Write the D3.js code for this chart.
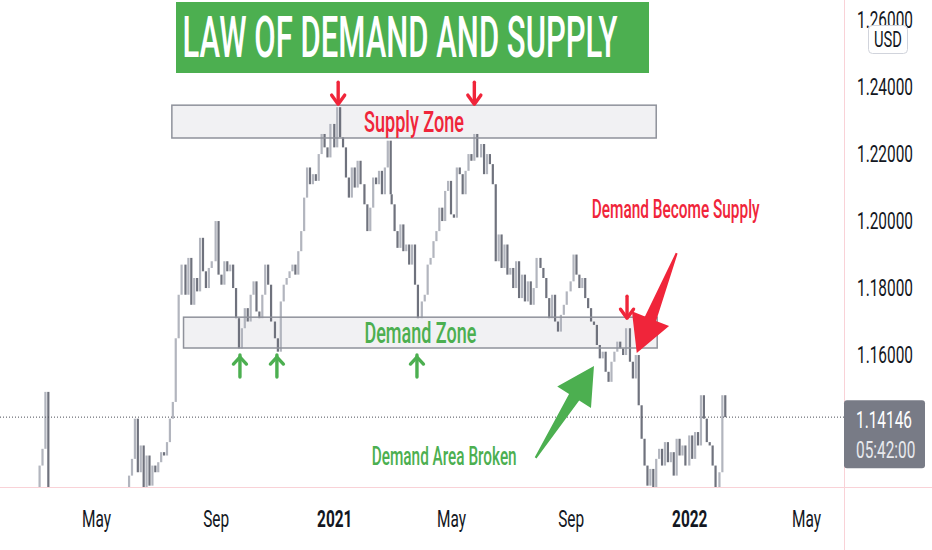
<!DOCTYPE html>
<html>
<head>
<meta charset="utf-8">
<script src="https://cdn.jsdelivr.net/npm/d3@7"></script>
<style>
  html, body { margin: 0; padding: 0; background: #fff; }
  svg { display: block; font-family: Roboto, "Noto Sans", sans-serif; }
</style>
</head>
<body>
<svg id="chart" width="932" height="550"></svg>
<script>
// EUR/USD closes, sampled on the 1st, 4th, ... 28th of each month
const months = ["2020-03", "2020-04", "2020-05", "2020-06", "2020-07", "2020-08", "2020-09", "2020-10",
  "2020-11", "2020-12", "2021-01", "2021-02", "2021-03", "2021-04", "2021-05", "2021-06", "2021-07",
  "2021-08", "2021-09", "2021-10", "2021-11", "2021-12", "2022-01", "2022-02"];
const sampleDays = [1, 4, 7, 10, 13, 16, 19, 22, 25, 28];
const closes = [
  [1.103, 1.127, 1.132, 1.149, 1.118, 1.117, 1.069, 1.072, 1.089, 1.114],
  [1.097, 1.085, 1.092, 1.092, 1.087, 1.086, 1.083, 1.078, 1.082, 1.088],
  [1.095, 1.080, 1.084, 1.081, 1.082, 1.092, 1.093, 1.090, 1.098, 1.110],
  [1.112, 1.124, 1.129, 1.141, 1.125, 1.133, 1.119, 1.130, 1.121, 1.127],
  [1.125, 1.128, 1.131, 1.130, 1.134, 1.141, 1.146, 1.165, 1.178, 1.187],
  [1.178, 1.189, 1.175, 1.183, 1.179, 1.195, 1.185, 1.180, 1.186, 1.188],
  [1.200, 1.184, 1.181, 1.188, 1.185, 1.187, 1.180, 1.171, 1.162, 1.168],
  [1.174, 1.170, 1.178, 1.182, 1.173, 1.171, 1.178, 1.187, 1.181, 1.170],
  [1.165, 1.161, 1.176, 1.181, 1.183, 1.185, 1.187, 1.184, 1.191, 1.197],
  [1.207, 1.216, 1.211, 1.214, 1.212, 1.220, 1.226, 1.222, 1.219, 1.229],
  [1.222, 1.234, 1.225, 1.222, 1.213, 1.207, 1.216, 1.210, 1.218, 1.211],
  [1.205, 1.197, 1.204, 1.213, 1.211, 1.215, 1.208, 1.216, 1.224, 1.208],
  [1.205, 1.197, 1.192, 1.199, 1.191, 1.193, 1.187, 1.193, 1.181, 1.171],
  [1.176, 1.178, 1.187, 1.189, 1.194, 1.197, 1.204, 1.200, 1.209, 1.212],
  [1.202, 1.201, 1.216, 1.214, 1.208, 1.215, 1.220, 1.218, 1.226, 1.219],
  [1.223, 1.214, 1.220, 1.217, 1.211, 1.188, 1.196, 1.186, 1.193, 1.184],
  [1.186, 1.180, 1.188, 1.177, 1.184, 1.176, 1.182, 1.175, 1.180, 1.189],
  [1.186, 1.183, 1.177, 1.171, 1.178, 1.170, 1.167, 1.172, 1.175, 1.179],
  [1.182, 1.190, 1.184, 1.180, 1.183, 1.177, 1.174, 1.170, 1.169, 1.163],
  [1.159, 1.161, 1.155, 1.152, 1.158, 1.161, 1.164, 1.162, 1.160, 1.168],
  [1.158, 1.153, 1.160, 1.145, 1.135, 1.127, 1.121, 1.126, 1.119, 1.129],
  [1.132, 1.127, 1.134, 1.128, 1.131, 1.124, 1.135, 1.130, 1.133, 1.127],
  [1.136, 1.129, 1.137, 1.133, 1.148, 1.141, 1.134, 1.133, 1.127, 1.115],
  [1.125, 1.148, 1.14146]
];
const lastPrice = 1.14146;
const lastTime = "05:42:00";
const priceTicks = [1.16, 1.18, 1.20, 1.22, 1.24, 1.26];
const currency = "USD";
const title = "LAW OF DEMAND AND SUPPLY";

// drawn zones and markers, in date / price terms
const zones = [
  { name: "Supply Zone", from: "2020-07-18", to: "2021-11-28", lo: 1.2248, hi: 1.2346, kind: "supply", width: 100 },
  { name: "Demand Zone", from: "2020-07-30", to: "2021-11-29", lo: 1.1621, hi: 1.1713, kind: "demand", width: 112 }
];
const markers = [
  { date: "2021-01-05", price: 1.2352, dir: "down" },
  { date: "2021-05-25", price: 1.2352, dir: "down" },
  { date: "2021-10-29", price: 1.1713, dir: "down" },
  { date: "2020-09-26", price: 1.1597, dir: "up" },
  { date: "2020-11-03", price: 1.1597, dir: "up" },
  { date: "2021-03-27", price: 1.1597, dir: "up" }
];
const bigArrows = [
  { from: ["2021-07-27", 1.1293], to: ["2021-09-25", 1.1567], kind: "demand" },
  { from: ["2021-12-19", 1.1904], to: ["2021-11-08", 1.1606], kind: "supply" }
];
const notes = [
  { text: "Demand Become Supply", date: "2021-12-18", price: 1.2009, kind: "supply", width: 168 },
  { text: "Demand Area Broken", date: "2021-04-24", price: 1.1272, kind: "demand", width: 145 }
];

const RED = "#f0253a", GREEN = "#4caf50";
const colorOf = k => k === "supply" ? RED : GREEN;
const W = 844, H = 487, SQ = 0.67;

const parseDay = d3.timeParse("%Y-%m-%d");
const parseMonth = d3.timeParse("%Y-%m");

const bars = [];
let prev = null;
months.forEach((m, i) => {
  const start = parseMonth(m);
  closes[i].forEach((c, j) => {
    bars.push({ date: d3.timeDay.offset(start, sampleDays[j] - 1), open: prev === null ? c : prev, close: c });
    prev = c;
  });
});

const x = d3.scaleTime().domain([parseDay("2020-05-01"), parseDay("2022-05-01")]).range([96, 806]);
const y = d3.scaleLinear().domain([1.1206, 1.266]).range([H, 0]);

const svg = d3.select("#chart");

// narrow a text horizontally: by factor k, or to a target width
function squeeze(sel, k, target) {
  sel.each(function (d) {
    const w = this.getComputedTextLength();
    const t = typeof target === "function" ? target(d) : target;
    const f = t ? t / w : k;
    const el = d3.select(this);
    const x0 = +el.attr("x") || 0;
    el.attr("x", x0 / f).attr("transform", `scale(${f},1)`);
  });
}

svg.append("defs").append("clipPath").attr("id", "plot")
  .append("rect").attr("width", W).attr("height", H);

const plot = svg.append("g").attr("clip-path", "url(#plot)");

// zone backgrounds under the bars
plot.selectAll(".zone-bg").data(zones).enter().append("rect")
  .attr("x", d => x(parseDay(d.from)))
  .attr("y", d => y(d.hi))
  .attr("width", d => x(parseDay(d.to)) - x(parseDay(d.from)))
  .attr("height", d => y(d.lo) - y(d.hi))
  .attr("fill", "#f1f1f3");

plot.selectAll(".bar").data(bars).enter().append("rect")
  .attr("x", d => x(d.date) - 1.1)
  .attr("width", 2.2)
  .attr("y", d => y(Math.max(d.open, d.close)))
  .attr("height", d => Math.max(1, Math.abs(y(d.open) - y(d.close))))
  .attr("fill", d => d.close >= d.open ? "#b2b5be" : "#6f727d");

plot.selectAll(".zone").data(zones).enter().append("rect")
  .attr("x", d => x(parseDay(d.from)))
  .attr("y", d => y(d.hi))
  .attr("width", d => x(parseDay(d.to)) - x(parseDay(d.from)))
  .attr("height", d => y(d.lo) - y(d.hi))
  .attr("fill", "none")
  .attr("stroke", "#8f929b")
  .attr("stroke-width", 1.5);

// last price line
plot.append("line")
  .attr("x1", 0).attr("x2", W)
  .attr("y1", y(lastPrice)).attr("y2", y(lastPrice))
  .attr("stroke", "#4a4d57").attr("stroke-dasharray", "1,2");

// borders
svg.append("line").attr("x1", 0).attr("x2", 932).attr("y1", H + 0.5).attr("y2", H + 0.5)
  .attr("stroke", "#f9d2d7");
svg.append("line").attr("x1", W + 0.5).attr("x2", W + 0.5).attr("y1", 0).attr("y2", 550)
  .attr("stroke", "#f9d2d7");

// zone labels
svg.selectAll(".zone-label").data(zones).enter().append("text")
  .attr("x", d => (x(parseDay(d.from)) + x(parseDay(d.to))) / 2)
  .attr("y", d => (y(d.hi) + y(d.lo)) / 2 + 10)
  .attr("text-anchor", "middle")
  .attr("font-size", 29).attr("font-weight", 500)
  .attr("fill", d => colorOf(d.kind))
  .text(d => d.name)
  .call(squeeze, SQ, d => d.width);

// small arrows
const mk = svg.selectAll(".marker").data(markers).enter().append("g")
  .attr("transform", d => `translate(${x(parseDay(d.date))},${y(d.price)})`)
  .attr("stroke", d => d.dir === "down" ? RED : GREEN)
  .attr("stroke-width", 3.4)
  .attr("stroke-linecap", "round")
  .attr("stroke-linejoin", "round")
  .attr("fill", "none");
mk.append("line").attr("x1", 0).attr("x2", 0).attr("y1", -1)
  .attr("y2", d => d.dir === "down" ? -21 : 21);
mk.append("polyline").attr("points", d => {
  const s = d.dir === "down" ? -1 : 1;
  return `-6.5,${s * 8} 0,1 6.5,${s * 8}`;
});

// big arrows
function arrowPoints(x0, y0, x1, y1) {
  const len = Math.hypot(x1 - x0, y1 - y0);
  const ux = (x1 - x0) / len, uy = (y1 - y0) / len;
  const nx = -uy, ny = ux;
  const bx = x1 - ux * 37, by = y1 - uy * 37;
  const p = (px, py, w) => [px + nx * w, py + ny * w];
  return [p(x0, y0, 1), p(bx, by, 6), p(bx, by, 20), [x1, y1], p(bx, by, -20), p(bx, by, -6), p(x0, y0, -1)];
}
svg.selectAll(".big-arrow").data(bigArrows).enter().append("polygon")
  .attr("points", d => arrowPoints(
    x(parseDay(d.from[0])), y(d.from[1]), x(parseDay(d.to[0])), y(d.to[1])
  ).map(p => p.join(",")).join(" "))
  .attr("fill", d => colorOf(d.kind));

svg.selectAll(".note").data(notes).enter().append("text")
  .attr("x", d => x(parseDay(d.date)))
  .attr("y", d => y(d.price))
  .attr("text-anchor", "middle")
  .attr("font-size", 25).attr("font-weight", 500)
  .attr("fill", d => colorOf(d.kind))
  .text(d => d.text)
  .call(squeeze, SQ, d => d.width);

// title banner
svg.append("rect").attr("x", 176).attr("y", 2).attr("width", 473).attr("height", 71)
  .attr("fill", GREEN);
svg.append("text").attr("x", 400).attr("y", 57)
  .attr("text-anchor", "middle")
  .attr("font-size", 58).attr("font-weight", 500)
  .attr("fill", "#fff")
  .text(title)
  .call(squeeze, SQ, 435);

// axes
const xAxis = svg.append("g").attr("transform", `translate(0,${H})`)
  .call(d3.axisBottom(x).ticks(d3.timeMonth.every(4)).tickSize(0).tickPadding(24)
    .tickFormat(d => d.getMonth() === 0 ? d3.timeFormat("%Y")(d) : d3.timeFormat("%b")(d)));
xAxis.select(".domain").remove();
xAxis.selectAll("text")
  .attr("font-size", 23).attr("font-family", "Roboto, sans-serif").attr("fill", "#131722")
  .attr("font-weight", d => d.getMonth() === 0 ? 700 : 400)
  .call(squeeze, SQ);

const yAxis = svg.append("g").attr("transform", `translate(${W},0)`)
  .call(d3.axisRight(y).tickValues(priceTicks).tickSize(0).tickPadding(13).tickFormat(d3.format(".5f")));
yAxis.select(".domain").remove();
yAxis.selectAll("text")
  .attr("font-size", 23).attr("font-family", "Roboto, sans-serif").attr("fill", "#131722")
  .call(squeeze, SQ);

// last price label
const ly = y(lastPrice);
svg.append("rect").attr("x", W).attr("y", ly - 17).attr("width", 81).attr("height", 68)
  .attr("rx", 3).attr("fill", "#787b86");
svg.append("text").attr("x", W + 12).attr("y", ly + 3).attr("dy", "0.35em")
  .attr("font-size", 23).attr("fill", "#fff").text(d3.format(".5f")(lastPrice))
  .call(squeeze, SQ);
svg.append("text").attr("x", W + 12).attr("y", ly + 33).attr("dy", "0.35em")
  .attr("font-size", 23).attr("fill", "#e8e9ed").text(lastTime)
  .call(squeeze, SQ);

// currency badge
svg.append("rect").attr("x", 868.5).attr("y", 25.5).attr("width", 39).attr("height", 28)
  .attr("rx", 4).attr("fill", "#fff").attr("stroke", "#d1d4dc");
svg.append("text").attr("x", 888).attr("y", 39).attr("dy", "0.35em")
  .attr("text-anchor", "middle").attr("font-size", 22).attr("fill", "#131722")
  .text(currency)
  .call(squeeze, SQ);
</script>
</body>
</html>
